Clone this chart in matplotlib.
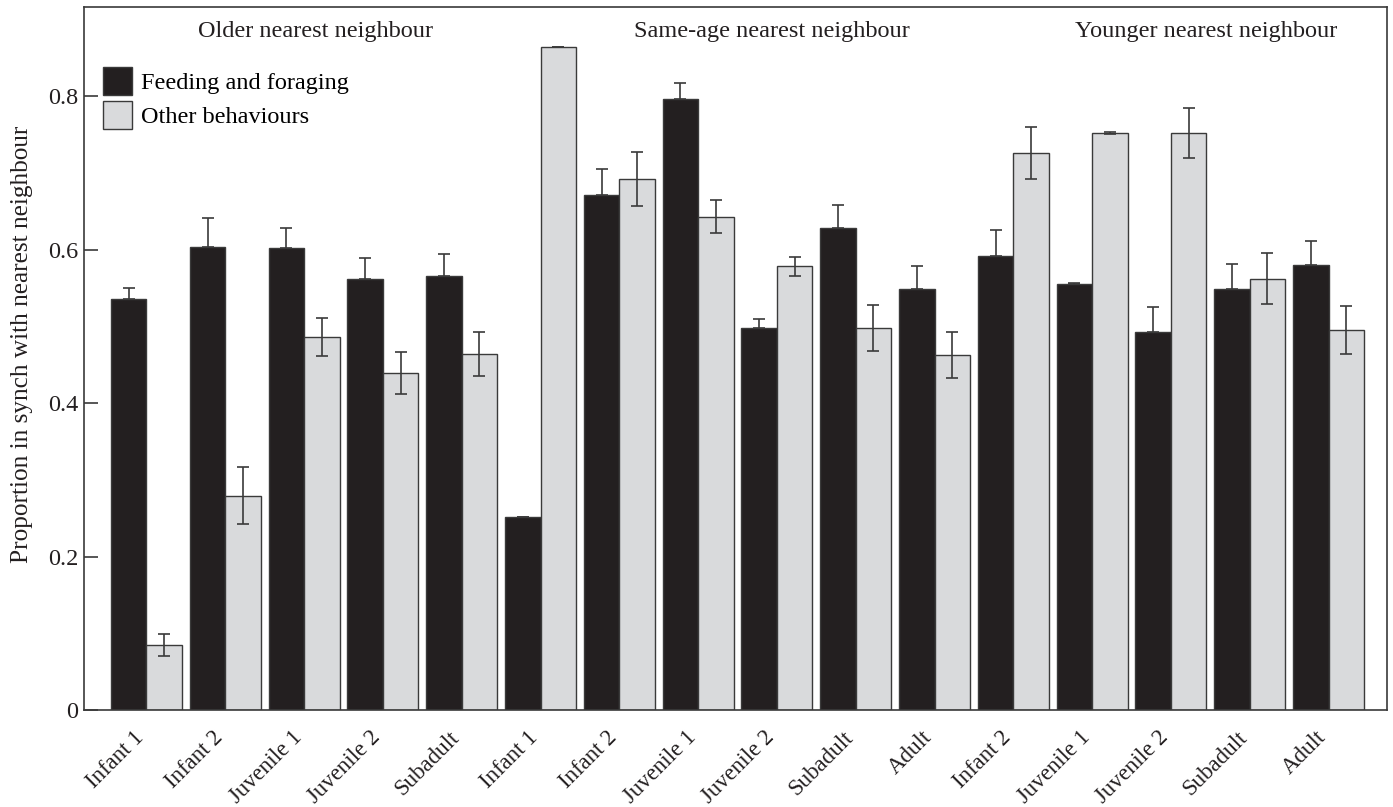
import numpy as np
import matplotlib.pyplot as plt
import matplotlib.transforms as mtransforms
from matplotlib.ticker import FuncFormatter

plt.rcParams['font.family'] = ['Liberation Serif', 'DejaVu Serif']

# age classes, grouped by nearest neighbour type
labels = ["Infant 1", "Infant 2", "Juvenile 1", "Juvenile 2", "Subadult",
          "Infant 1", "Infant 2", "Juvenile 1", "Juvenile 2", "Subadult", "Adult",
          "Infant 2", "Juvenile 1", "Juvenile 2", "Subadult", "Adult"]
group_titles = ["Older nearest neighbour", "Same-age nearest neighbour",
                "Younger nearest neighbour"]
title_x = [2.15, 7.93, 13.45]

feeding = [0.535, 0.603, 0.602, 0.562, 0.565,
           0.251, 0.671, 0.796, 0.498, 0.628, 0.549,
           0.591, 0.555, 0.492, 0.548, 0.580]
feeding_err = [0.015, 0.038, 0.026, 0.027, 0.029,
               0.0, 0.034, 0.021, 0.011, 0.030, 0.029,
               0.034, 0.001, 0.033, 0.033, 0.031]
other = [0.085, 0.279, 0.486, 0.439, 0.464,
         0.864, 0.692, 0.643, 0.578, 0.498, 0.462,
         0.726, 0.752, 0.752, 0.562, 0.495]
other_err = [0.014, 0.037, 0.025, 0.027, 0.029,
             0.0, 0.035, 0.022, 0.012, 0.030, 0.030,
             0.034, 0.001, 0.033, 0.033, 0.031]

BLACK = "#231f20"
GREY = "#d9dadc"
EDGE = "#3a3a3a"
TXT = "#231f20"
W = 0.45
FS = 17.5

fig = plt.figure(figsize=(13.93, 8.07), dpi=100)
ax = fig.add_axes([0.0603, 0.1202, 0.9354, 0.8711])

x = np.arange(len(labels))
ax.bar(x - W / 2, feeding, W, color=BLACK, edgecolor=EDGE, linewidth=1.0,
       label="Feeding and foraging", zorder=2)
ax.bar(x + W / 2, other, W, color=GREY, edgecolor=EDGE, linewidth=1.0,
       label="Other behaviours", zorder=2)
ax.errorbar(x - W / 2, feeding, yerr=[np.zeros(len(feeding)), feeding_err],
            fmt="none", ecolor=EDGE, elinewidth=1.2, capsize=4, capthick=1.2, zorder=3)
ax.errorbar(x + W / 2, other, yerr=other_err,
            fmt="none", ecolor=EDGE, elinewidth=1.2, capsize=4, capthick=1.2, zorder=3)

for t, tx in zip(group_titles, title_x):
    ax.text(tx, 0.884, t, ha="center", va="center", fontsize=FS, color=TXT)

ax.set_xlim(-0.793, 15.742)
ax.set_ylim(0, 0.916)
ax.set_xticks(x)
ax.set_xticklabels(labels, rotation=45, ha="right", rotation_mode="anchor",
                   fontsize=16.5, color=TXT)
ax.tick_params(axis="x", length=0, pad=12)
shift = mtransforms.ScaledTranslation(-13 / 100, 0, fig.dpi_scale_trans)
for lab in ax.get_xticklabels():
    lab.set_transform(lab.get_transform() + shift)

ax.set_yticks([0, 0.2, 0.4, 0.6, 0.8])
ax.yaxis.set_major_formatter(FuncFormatter(lambda v, p: "0" if v == 0 else f"{v:.1f}"))
ax.tick_params(axis="y", direction="in", length=10, width=1.2, color=EDGE,
               labelsize=FS, labelcolor=TXT, pad=4)
ax.set_ylabel("Proportion in synch with nearest neighbour", fontsize=18.2, color=TXT)
ax.yaxis.set_label_coords(-0.039, 0.52)
for s in ax.spines.values():
    s.set_color(EDGE)
    s.set_linewidth(1.2)

ax.legend(loc="upper left", bbox_to_anchor=(0.0146, 0.9147), frameon=False,
          fontsize=FS, handlelength=1.2, handleheight=1.4, handletextpad=0.37,
          labelspacing=0.25, borderaxespad=0, borderpad=0)

fig.savefig("out.png", dpi=100)
